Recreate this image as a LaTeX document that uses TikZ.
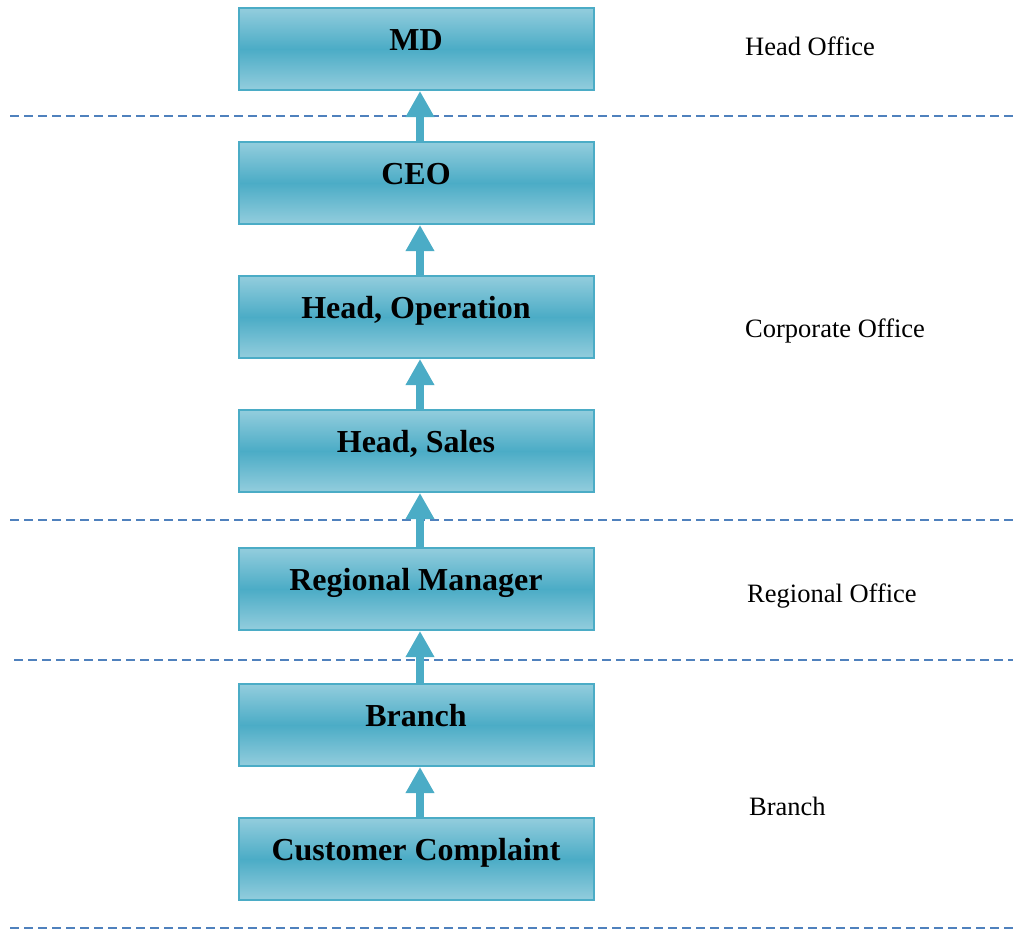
\documentclass[tikz,border=0pt]{standalone}
\usepackage{fontspec}
\setmainfont{Liberation Serif}
\usetikzlibrary{positioning,arrows.meta}

\definecolor{boxedge}{HTML}{4BACC6}
\definecolor{boxlight}{HTML}{93CDDD}
\definecolor{boxdark}{HTML}{4BACC6}
\definecolor{sepline}{HTML}{4F81BD}

\begin{document}
\begin{tikzpicture}[
	x=1pt, y=-1pt,
	node distance=52pt,
	levelbox/.style={rectangle, draw=boxedge, line width=2pt, top color=boxlight, bottom color=boxlight, middle color=boxdark, minimum width=355pt, minimum height=82pt, text height=22pt, text depth=20pt, inner sep=0pt, outer sep=0pt, font=\fontsize{32}{36}\selectfont\bfseries},
	officelabel/.style={anchor=west, inner sep=0pt, font=\fontsize{26.5}{30}\selectfont},
	flow/.style={draw=boxedge, line width=8pt, -{Triangle[width=27pt,length=26pt]}, shorten >=1pt},
	divider/.style={draw=sepline, line width=2pt, dash pattern=on 9pt off 5pt},
	]
	\useasboundingbox (0,0) rectangle (1013,930);
	%Nodes
	\node[levelbox]      (md)       at (416,49)           {MD};
	\node[levelbox]      (ceo)      [below=of md]         {CEO};
	\node[levelbox]      (headop)   [below=of ceo]        {Head, Operation};
	\node[levelbox]      (headsal)  [below=of headop]     {Head, Sales};
	\node[levelbox]      (regman)   [below=56pt of headsal] {Regional Manager};
	\node[levelbox]      (branch)   [below=54pt of regman]  {Branch};
	\node[levelbox]      (complaint) [below=of branch]    {Customer Complaint};

	\node[officelabel]   (lhead)    at (745,46)           {Head Office};
	\node[officelabel]   (lcorp)    at (745,331)          {Corporate Office};
	\node[officelabel]   (lreg)     at (747,596)          {Regional Office};
	\node[officelabel]   (lbranch)  at (749,806)          {Branch};

	%Separators
	\draw[divider] (10,116) -- (1013,116);
	\draw[divider] (10,520) -- (1013,520);
	\draw[divider] (14,660) -- (1013,660);
	\draw[divider] (10,928) -- (1013,928);

	%Lines
	\draw[flow] ([xshift=4pt]ceo.north) -- ([xshift=4pt]md.south);
	\draw[flow] ([xshift=4pt]headop.north) -- ([xshift=4pt]ceo.south);
	\draw[flow] ([xshift=4pt]headsal.north) -- ([xshift=4pt]headop.south);
	\draw[flow] ([xshift=4pt]regman.north) -- ([xshift=4pt]headsal.south);
	\draw[flow] ([xshift=4pt]branch.north) -- ([xshift=4pt]regman.south);
	\draw[flow] ([xshift=4pt]complaint.north) -- ([xshift=4pt]branch.south);
\end{tikzpicture}
\end{document}
